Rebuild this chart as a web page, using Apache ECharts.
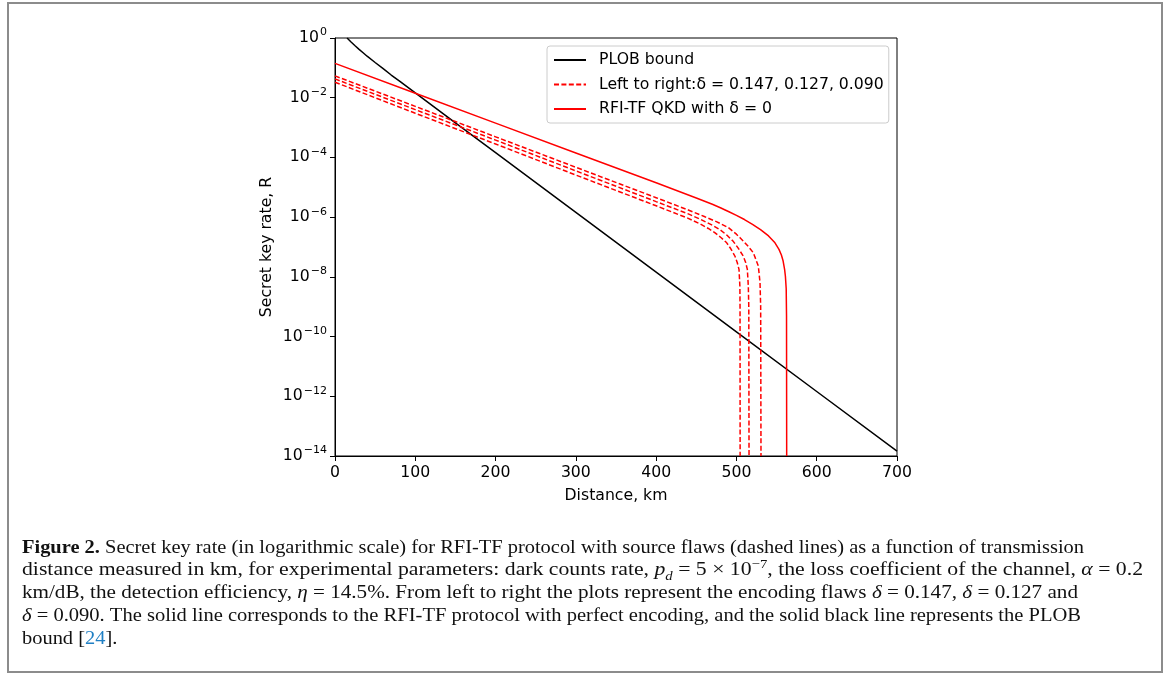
<!DOCTYPE html>
<html>
<head>
<meta charset="utf-8">
<script src="https://cdn.jsdelivr.net/npm/echarts@6/dist/echarts.min.js"></script>
<style>
  html, body { margin: 0; padding: 0; background: #fff; }
  #wrap { position: relative; width: 1170px; height: 675px; overflow: hidden; }
  #chart { position: absolute; left: 0; top: 0; width: 1170px; height: 675px; }
  .cap { position: absolute; left: 22px; white-space: nowrap; font-family: "Liberation Serif", "DejaVu Serif", serif;
         font-size: 19px; color: #111; transform-origin: 0 50%; line-height: 22px; }
  .cap sub, .cap sup { font-size: 0.68em; line-height: 0; }
  .cap i { font-style: italic; }
  .ref { color: #1f7fc4; }
</style>
</head>
<body>
<div id="wrap">
  <div id="chart"></div>
  <div class="cap" id="cap1" data-right="1084" style="top:536px"><b>Figure 2.</b> Secret key rate (in logarithmic scale) for RFI-TF protocol with source flaws (dashed lines) as a function of transmission</div>
  <div class="cap" data-right="1143" style="top:558px">distance measured in km, for experimental parameters: dark counts rate, <i>p<sub>d</sub></i> = 5 × 10<sup>−7</sup>, the loss coefficient of the channel, <i>α</i> = 0.2</div>
  <div class="cap" data-right="1078" style="top:581px">km/dB, the detection efficiency, <i>η</i> = 14.5%. From left to right the plots represent the encoding flaws <i>δ</i> = 0.147, <i>δ</i> = 0.127 and</div>
  <div class="cap" data-right="1081" style="top:604px"><i>δ</i> = 0.090. The solid line corresponds to the RFI-TF protocol with perfect encoding, and the solid black line represents the PLOB</div>
  <div class="cap" id="cap5" style="top:627px">bound [<span class="ref">24</span>].</div>
</div>
<script>
// ---- data (distance in km, log10 of secret key rate) ----
const PLOB_DIST = [15, 20, 25, 30, 35, 40, 50, 60, 70, 80, 100, 150, 200, 300, 400, 500, 600, 700];
const PLOB_LOGR = [0, -0.135, -0.261, -0.38, -0.494, -0.61, -0.82, -1.027, -1.24, -1.436, -1.84, -2.84, -3.84, -5.84, -7.84, -9.84, -11.84, -13.84];

const D090_DIST = [0, 100, 200, 300, 400, 440, 460, 475, 490, 500, 504.5, 510, 515, 521, 524, 527.3, 529.4, 530.2, 530.6];
const D090_LOGR = [-1.27, -2.29, -3.31, -4.33, -5.35, -5.76, -5.98, -6.15, -6.35, -6.57, -6.69, -6.84, -6.99, -7.19, -7.40, -7.64, -8.2, -9.0, -14];

const D127_DIST = [0, 100, 200, 300, 400, 440, 455, 470, 480, 488, 496, 502, 508.6, 511.5, 513.6, 514.8, 515.4, 515.7];
const D127_LOGR = [-1.37, -2.40, -3.42, -4.45, -5.48, -5.89, -6.07, -6.27, -6.43, -6.60, -6.81, -7.03, -7.31, -7.52, -7.75, -8.31, -9.0, -14];

const D147_DIST = [0, 100, 200, 300, 400, 440, 455, 465, 473, 481, 487.9, 493, 498.2, 501, 503.2, 504.3, 504.5, 504.6];
const D147_LOGR = [-1.48, -2.52, -3.55, -4.59, -5.62, -6.04, -6.23, -6.38, -6.52, -6.69, -6.86, -7.06, -7.31, -7.52, -7.75, -8.31, -9.0, -14];

const D0_DIST = [0, 100, 200, 300, 400, 450, 470, 480, 490, 500, 510, 520, 530, 540, 548, 553, 556, 558, 560, 561, 562, 562.4, 562.6];
const D0_LOGR = [-0.85, -1.85, -2.85, -3.85, -4.85, -5.36, -5.57, -5.685, -5.81, -5.94, -6.08, -6.24, -6.42, -6.63, -6.86, -7.08, -7.27, -7.45, -7.75, -7.98, -8.4, -9.3, -14];

const X_TICKS = [0, 100, 200, 300, 400, 500, 600, 700];
const NAME_PLOB = 'PLOB bound';
const NAME_FLAW = 'Left to right:δ = 0.147, 0.127, 0.090';
const NAME_PERF = 'RFI-TF QKD with δ = 0';

function pairs(d, e) { return d.map((x, i) => [x, Math.pow(10, e[i])]); }

const FONT = 'DejaVu Sans';
const FS = 15.7;
const chart = echarts.init(document.getElementById('chart'), null, { renderer: 'canvas' });

function lineSeries(name, d, e, color, dashed) {
  return {
    name: name, type: 'line', data: pairs(d, e), showSymbol: false, symbol: 'none',
    smooth: false, animation: false,
    lineStyle: { color: color, width: 1.5, type: dashed ? [5, 2.4] : 'solid' },
    itemStyle: { color: color }
  };
}

chart.setOption({
  animation: false,
  backgroundColor: '#fff',
  grid: { left: 335, top: 38, width: 562, height: 418, show: true, borderColor: '#000', borderWidth: 1, backgroundColor: 'transparent' },
  legend: {
    data: [NAME_PLOB, NAME_FLAW, NAME_PERF],
    orient: 'vertical', left: 547, top: 46,
    padding: [6, 5, 6, 6],
    itemWidth: 32, itemHeight: 14, itemGap: 8.5,
    backgroundColor: 'rgba(255,255,255,0.8)',
    borderColor: '#cccccc', borderWidth: 1, borderRadius: 3,
    itemStyle: { opacity: 0 },
    textStyle: { fontFamily: FONT, fontSize: FS, color: '#000', padding: [0, 0, 0, 8], lineHeight: 14 },
    selectedMode: false
  },
  xAxis: {
    type: 'value', min: 0, max: 700, interval: 100,
    name: 'Distance, km', nameLocation: 'middle', nameGap: 32,
    nameTextStyle: { fontFamily: FONT, fontSize: FS, color: '#000' },
    axisLine: { show: true, lineStyle: { color: '#000', width: 1 } },
    axisTick: { show: true, inside: false, length: 5, lineStyle: { color: '#000' } },
    axisLabel: { fontFamily: FONT, fontSize: FS, color: '#000', margin: 9,
      formatter: v => X_TICKS.indexOf(v) >= 0 ? String(v) : '' },
    splitLine: { show: false }
  },
  yAxis: {
    type: 'log', logBase: 10, min: 1e-14, max: 1, interval: 2,
    name: 'Secret key rate, R', nameLocation: 'middle', nameGap: 60,
    nameTextStyle: { fontFamily: FONT, fontSize: FS, color: '#000' },
    axisLine: { show: true, lineStyle: { color: '#000', width: 1 } },
    axisTick: { show: true, inside: false, length: 5, lineStyle: { color: '#000' } },
    minorTick: { show: false },
    splitLine: { show: false },
    axisLabel: {
      margin: 8, color: '#000', fontFamily: FONT, fontSize: FS,
      formatter: function (v) {
        const ex = Math.round(Math.log10(v));
        return '{b|10}{s|' + (ex < 0 ? '\u2212' + (-ex) : ex) + '}';
      },
      rich: {
        b: { fontFamily: FONT, fontSize: FS, color: '#000', verticalAlign: 'middle' },
        s: { fontFamily: FONT, fontSize: 11, color: '#000', verticalAlign: 'middle', padding: [0, 0, 11, 1] }
      }
    }
  },
  graphic: [
    { type: 'rect', silent: true, z: -1,
      shape: { x: 8, y: 3, width: 1154, height: 669 },
      style: { fill: 'none', stroke: '#8c8c8c', lineWidth: 2 } }
  ],
  series: [
    lineSeries(NAME_PLOB, PLOB_DIST, PLOB_LOGR, '#000000', false),
    lineSeries(NAME_FLAW, D147_DIST, D147_LOGR, '#ff0000', true),
    lineSeries(NAME_FLAW, D127_DIST, D127_LOGR, '#ff0000', true),
    lineSeries(NAME_FLAW, D090_DIST, D090_LOGR, '#ff0000', true),
    lineSeries(NAME_PERF, D0_DIST, D0_LOGR, '#ff0000', false)
  ]
});

// fit caption lines horizontally to their right edges in the reference
let firstScale = 1;
document.querySelectorAll('.cap').forEach(el => {
  const r = el.getAttribute('data-right');
  if (!r) return;
  const w = el.getBoundingClientRect().width;
  const s = (parseFloat(r) - 22) / w;
  if (el.id === 'cap1') firstScale = s;
  el.style.transform = 'scaleX(' + s.toFixed(4) + ')';
});
document.getElementById('cap5').style.transform = 'scaleX(' + firstScale.toFixed(4) + ')';
</script>
</body>
</html>
